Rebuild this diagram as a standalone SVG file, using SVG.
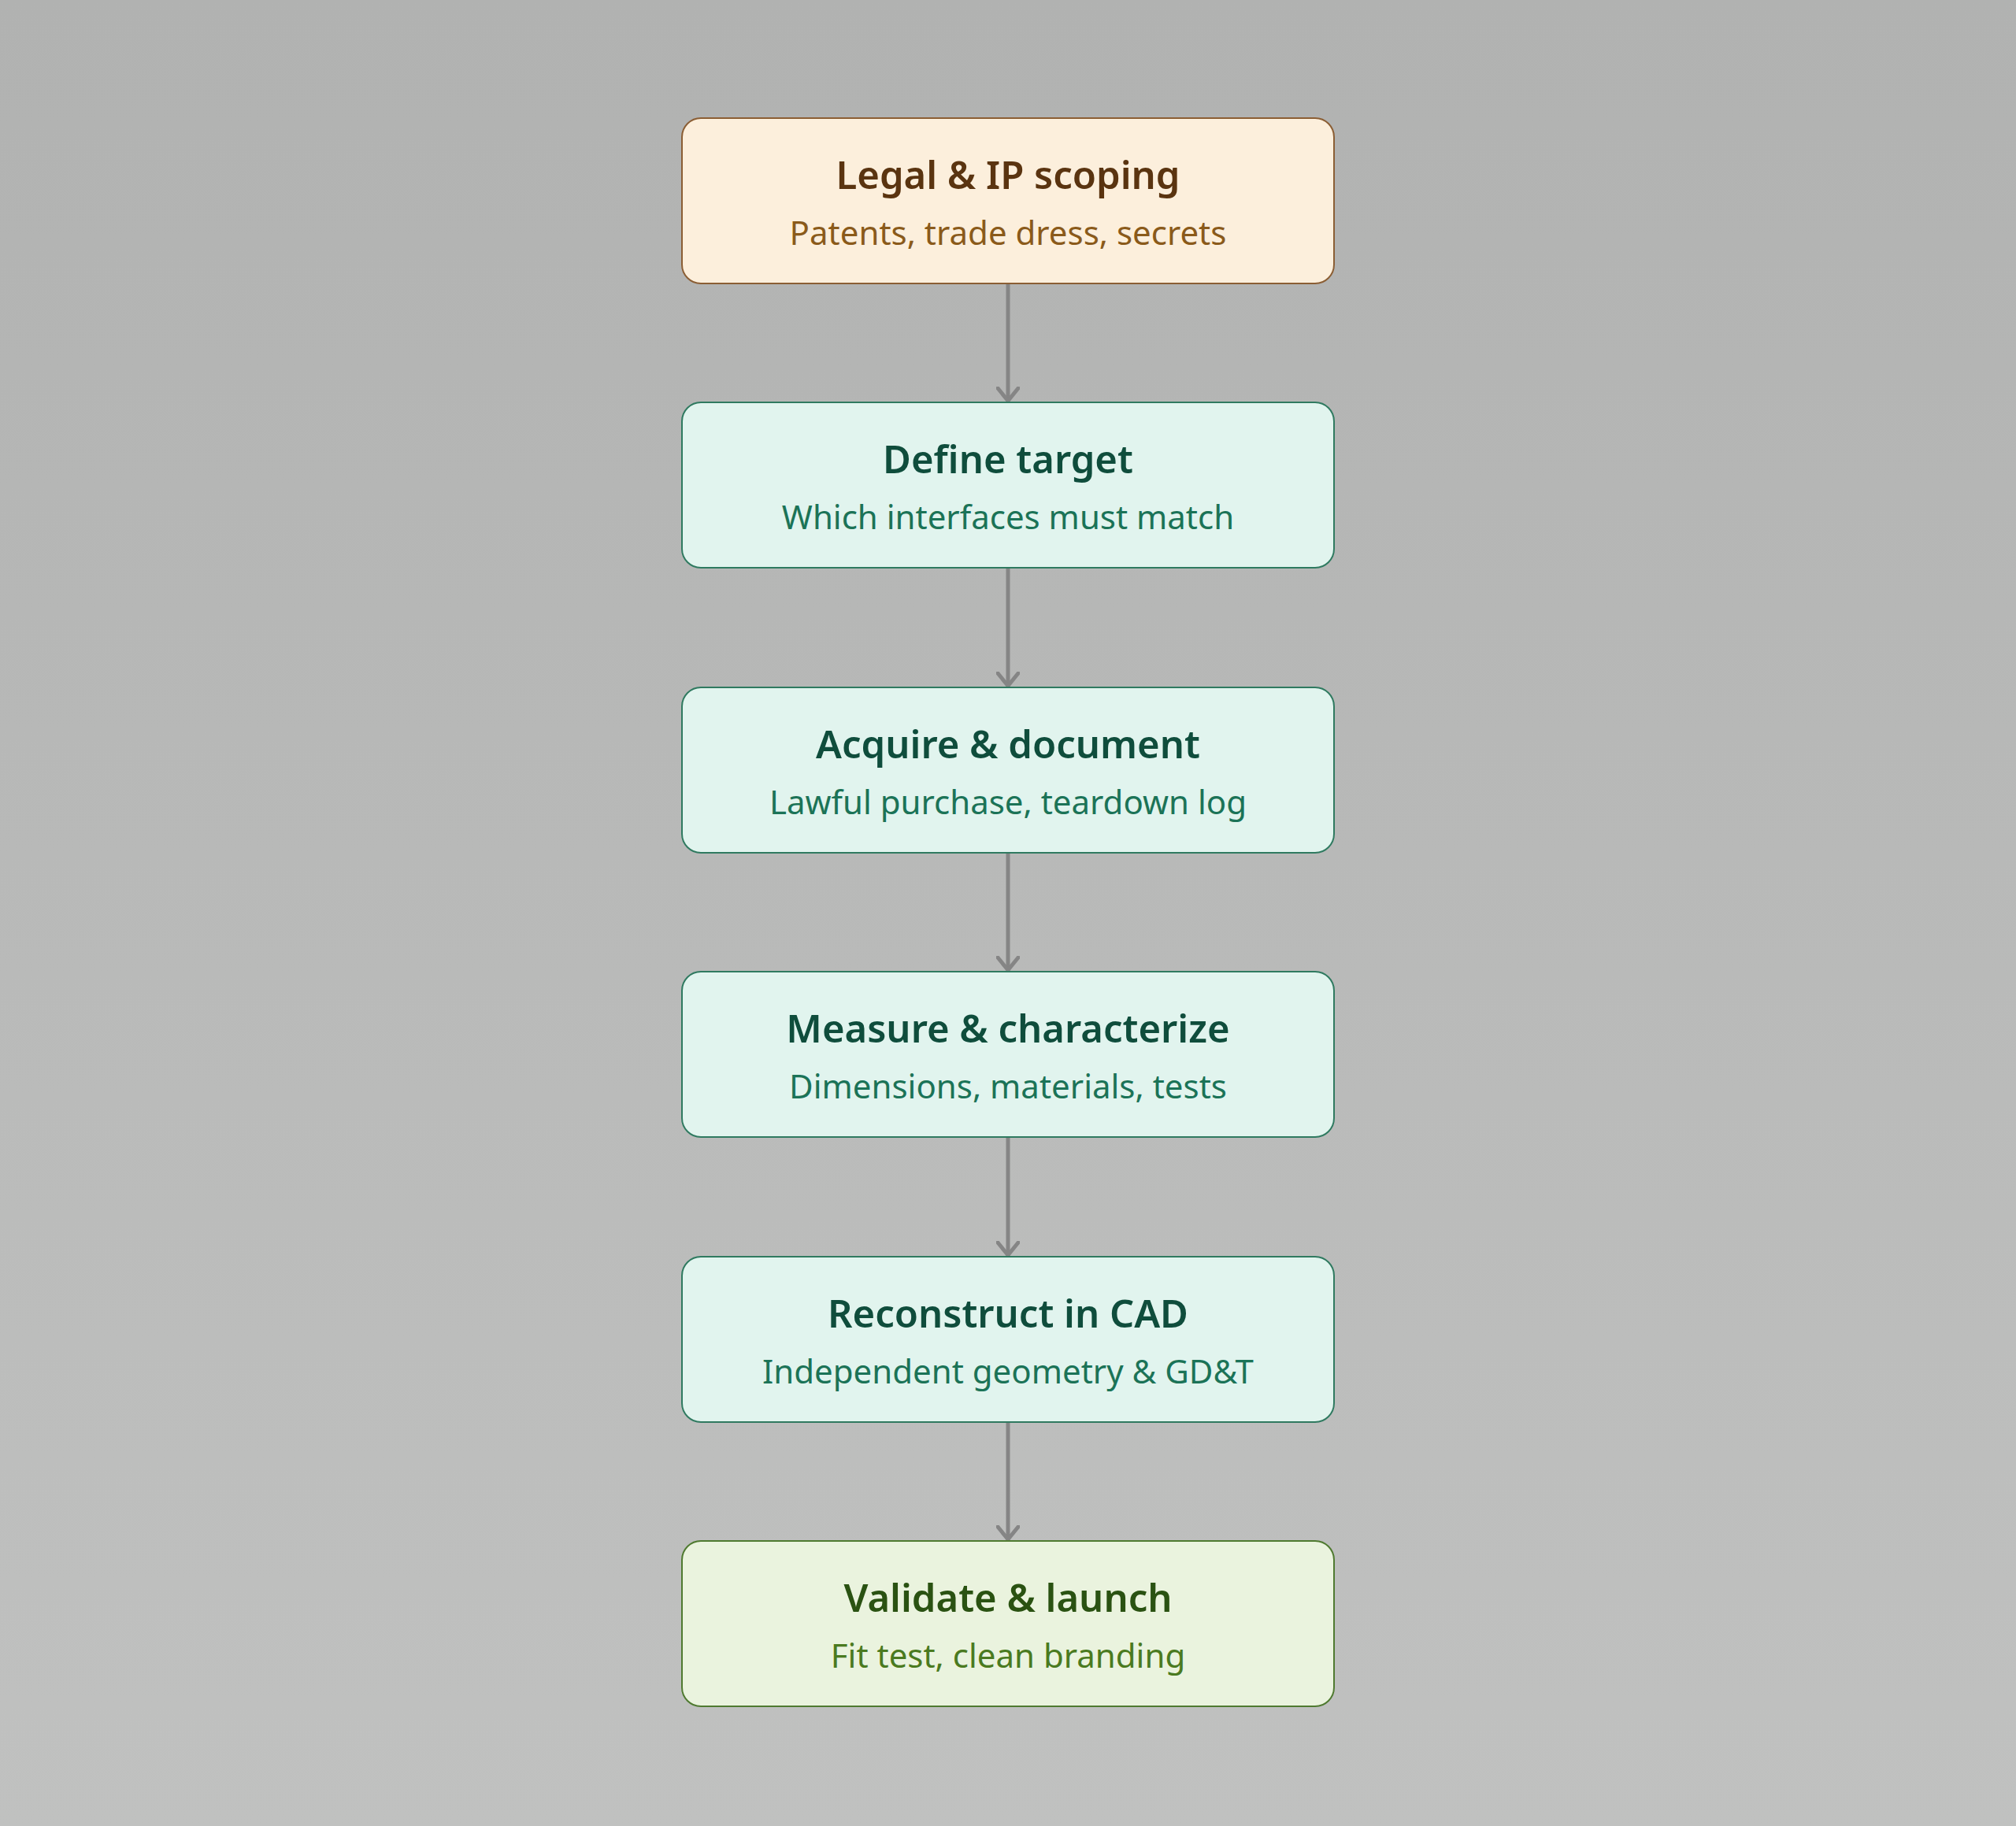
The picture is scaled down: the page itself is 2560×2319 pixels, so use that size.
<svg xmlns="http://www.w3.org/2000/svg" width="2560" height="2319" viewBox="0 0 2560 2319">
<defs>
<linearGradient id="bg" x1="0" y1="0" x2="0" y2="1">
<stop offset="0" stop-color="#b1b2b1"/>
<stop offset="1" stop-color="#c0c1c0"/>
</linearGradient>
<marker id="arr" viewBox="0 0 20 30" refX="18" refY="15" markerWidth="20" markerHeight="30" markerUnits="userSpaceOnUse" orient="auto">
<path d="M2,2 L18,15 L2,28" fill="none" stroke="#858585" stroke-width="5" stroke-linecap="round" stroke-linejoin="round"/>
</marker>
<style>
.box{stroke-width:2}
.t{font-family:"Noto Sans","Open Sans","DejaVu Sans",sans-serif;font-weight:600;font-size:49px;text-anchor:middle}
.s{font-family:"Noto Sans","Open Sans","DejaVu Sans",sans-serif;font-size:42px;text-anchor:middle}
.legal rect{fill:#fcefdc;stroke:#8b5e34}
.legal .t{fill:#5a3410}
.legal .s{fill:#8a5a1a}
.step rect{fill:#e1f4ee;stroke:#2f7a60}
.step .t{fill:#0f4d3c}
.step .s{fill:#1b7357}
.done rect{fill:#eaf3de;stroke:#4f7a30}
.done .t{fill:#2a5212}
.done .s{fill:#4a7a20}
.edge{stroke:#858585;stroke-width:5;fill:none;stroke-linecap:round}
</style>
</defs>
<rect x="0" y="0" width="2560" height="2319" fill="url(#bg)"/>
<g id="connectors">
<line class="edge" x1="1280" y1="361" x2="1280" y2="509" marker-end="url(#arr)"/>
<line class="edge" x1="1280" y1="722" x2="1280" y2="871" marker-end="url(#arr)"/>
<line class="edge" x1="1280" y1="1084" x2="1280" y2="1232" marker-end="url(#arr)"/>
<line class="edge" x1="1280" y1="1445" x2="1280" y2="1594" marker-end="url(#arr)"/>
<line class="edge" x1="1280" y1="1807" x2="1280" y2="1955" marker-end="url(#arr)"/>
</g>
<g id="legal" class="legal">
<rect class="box" x="866" y="150" width="828" height="210" rx="24"/>
<text class="t" x="1280" y="240">Legal &amp; IP scoping</text>
<text class="s" x="1280" y="311">Patents, trade dress, secrets</text>
</g>
<g id="define" class="step">
<rect class="box" x="866" y="511" width="828" height="210" rx="24"/>
<text class="t" x="1280" y="601">Define target</text>
<text class="s" x="1280" y="672">Which interfaces must match</text>
</g>
<g id="acquire" class="step">
<rect class="box" x="866" y="873" width="828" height="210" rx="24"/>
<text class="t" x="1280" y="963">Acquire &amp; document</text>
<text class="s" x="1280" y="1034">Lawful purchase, teardown log</text>
</g>
<g id="measure" class="step">
<rect class="box" x="866" y="1234" width="828" height="210" rx="24"/>
<text class="t" x="1280" y="1324">Measure &amp; characterize</text>
<text class="s" x="1280" y="1395">Dimensions, materials, tests</text>
</g>
<g id="reconstruct" class="step">
<rect class="box" x="866" y="1596" width="828" height="210" rx="24"/>
<text class="t" x="1280" y="1686">Reconstruct in CAD</text>
<text class="s" x="1280" y="1757">Independent geometry &amp; GD&amp;T</text>
</g>
<g id="validate" class="done">
<rect class="box" x="866" y="1957" width="828" height="210" rx="24"/>
<text class="t" x="1280" y="2047">Validate &amp; launch</text>
<text class="s" x="1280" y="2118">Fit test, clean branding</text>
</g>
</svg>
